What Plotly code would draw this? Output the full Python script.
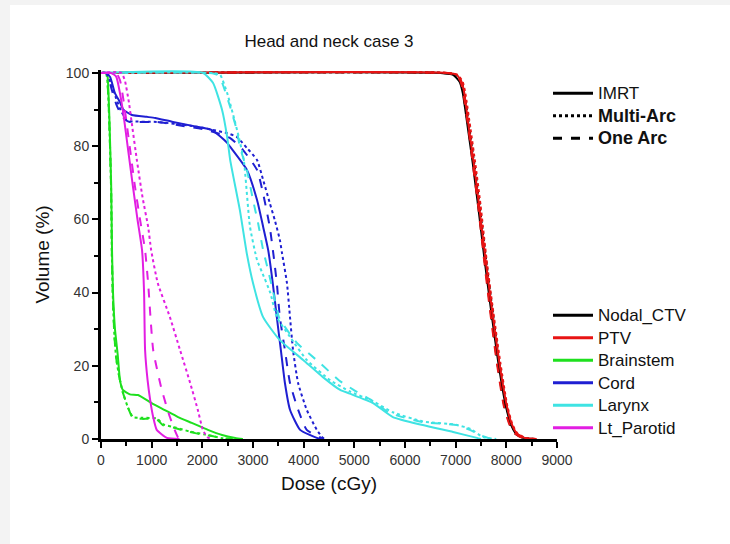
import plotly.graph_objects as go

# ---------------- data (dose in cGy, volume in %) ----------------
# Nodal_CTV
ctv_imrt_dose  = [0, 6700, 6950, 7080, 7140, 7240, 7340, 7440, 7570, 7690, 7840, 7990, 8090, 8190, 8340, 8550]
ctv_imrt_vol   = [100, 100, 99.5, 97.5, 94.5, 85, 75, 64, 49, 36, 21, 9, 4, 1.5, 0.3, 0]
ctv_multi_dose = [0, 6800, 7000, 7120, 7170, 7270, 7370, 7470, 7600, 7720, 7860, 8000, 8100, 8200, 8350, 8560]
ctv_multi_vol  = [100, 100, 99.5, 97.5, 94.5, 85, 75, 64, 49, 36, 21, 9, 4, 1.5, 0.3, 0]
ctv_one_dose   = [0, 6750, 6980, 7100, 7150, 7250, 7350, 7450, 7570, 7680, 7820, 7960, 8070, 8170, 8320, 8520]
ctv_one_vol    = [100, 100, 99.5, 97.5, 94.5, 85, 75, 64, 49, 36, 21, 9, 4, 1.5, 0.3, 0]
# PTV
ptv_imrt_dose  = [0, 6850, 7020, 7120, 7170, 7260, 7360, 7460, 7590, 7710, 7860, 8010, 8110, 8210, 8360, 8600]
ptv_imrt_vol   = [100, 100, 99.5, 97.5, 94.5, 85, 75, 64, 49, 36, 21, 9, 4, 1.5, 0.3, 0]
ptv_multi_dose = [0, 6850, 7040, 7140, 7190, 7290, 7390, 7490, 7610, 7730, 7880, 8020, 8120, 8220, 8380, 8620]
ptv_multi_vol  = [100, 100, 99.5, 97.5, 94.5, 85, 75, 64, 49, 36, 21, 9, 4, 1.5, 0.3, 0]
ptv_one_dose   = [0, 6800, 7000, 7100, 7150, 7250, 7340, 7440, 7560, 7670, 7810, 7950, 8060, 8170, 8320, 8520]
ptv_one_vol    = [100, 100, 99.5, 97.5, 94.5, 85, 75, 64, 49, 36, 21, 9, 4, 1.5, 0.3, 0]
# Brainstem
bs_imrt_dose  = [0, 110, 130, 160, 200, 217, 237, 276, 330, 375, 430, 570, 730, 1000, 1260, 1520, 1790, 2110, 2390, 2650, 2800]
bs_imrt_vol   = [100, 100, 99, 90, 70, 52, 40, 30, 23, 16, 13.4, 12.2, 12, 9.8, 7.9, 6, 4.4, 2.5, 1.1, 0.3, 0]
bs_multi_dose = [0, 100, 130, 160, 200, 215, 235, 265, 300, 360, 434, 530, 630, 810, 1100, 1230, 1480, 1740, 2060, 2200, 2400, 2600]
bs_multi_vol  = [100, 100, 97, 88, 68, 50, 38, 28, 22, 17, 12.6, 8.7, 6.0, 5.8, 5.6, 4.0, 3.1, 2.1, 1.2, 0.8, 0.2, 0]
bs_one_dose   = [0, 100, 130, 160, 200, 215, 235, 265, 300, 360, 434, 530, 630, 810, 1100, 1220, 1460, 1720, 2050, 2190, 2400, 2600]
bs_one_vol    = [100, 100, 97, 88, 68, 50, 38, 28, 22, 17, 12.6, 8.7, 5.7, 5.5, 5.4, 3.8, 3.0, 2.0, 1.1, 0.8, 0.2, 0]
# Cord
cord_imrt_dose  = [0, 100, 180, 275, 375, 440, 610, 900, 1070, 1420, 1860, 2190, 2490, 2550, 2880, 3080, 3200, 3300, 3390, 3470, 3550, 3630, 3730, 3930, 4260, 4350]
cord_imrt_vol   = [100, 100, 98.9, 94.5, 92, 90, 88.5, 88, 87.7, 86.6, 85.4, 84.4, 80.9, 79.8, 73.5, 65.3, 58, 51.6, 42.6, 33.3, 24.3, 15.3, 8, 2.5, 0.3, 0]
cord_multi_dose = [0, 100, 200, 300, 400, 500, 570, 1100, 1760, 2090, 2500, 2680, 2880, 3080, 3200, 3330, 3430, 3530, 3570, 3670, 3730, 3790, 3890, 4060, 4260, 4380, 4450]
cord_multi_vol  = [100, 100, 97, 93, 89.5, 87.2, 86.8, 86.6, 85.6, 84.8, 83.5, 82.5, 79.5, 76.2, 70.8, 64.5, 59.8, 54.4, 51, 42.6, 33.3, 24.3, 15.3, 8, 2.5, 0.3, 0]
cord_one_dose   = [0, 120, 200, 300, 400, 500, 570, 1100, 1760, 2090, 2550, 2800, 3080, 3200, 3330, 3400, 3470, 3530, 3630, 3730, 3890, 4060, 4320, 4400]
cord_one_vol    = [100, 100, 96, 91.5, 88.5, 87, 86.6, 86.6, 85.2, 84.4, 82.2, 79, 73.5, 67, 58, 50.8, 42.6, 33.3, 24.3, 15.3, 8, 2.5, 0.5, 0]
# Larynx
lar_imrt_dose  = [0, 2010, 2210, 2390, 2490, 2550, 2740, 2880, 3000, 3200, 3530, 3990, 4380, 4720, 4910, 5370, 5760, 6350, 6950, 7420, 7500]
lar_imrt_vol   = [100, 100, 97.3, 89.9, 82.5, 76.2, 62.6, 50.5, 42.6, 33.3, 27, 21.6, 16.9, 13.4, 12.4, 9.8, 6, 3.8, 1.9, 0.3, 0]
lar_multi_dose = [0, 2200, 2350, 2490, 2600, 2720, 2820, 2940, 3080, 3180, 3340, 3470, 3730, 4060, 4520, 4910, 5370, 5760, 6350, 7000, 7300, 7540, 7800]
lar_multi_vol  = [100, 100, 99.5, 94.5, 89, 82.5, 76, 58, 48.9, 45.5, 40, 33.3, 27.9, 21.6, 16.1, 13, 10.3, 7.3, 4.8, 3.9, 2.7, 0.5, 0]
lar_one_dose   = [0, 2150, 2290, 2390, 2550, 2680, 2740, 2880, 3000, 3100, 3200, 3300, 3400, 3520, 3870, 4320, 4700, 5000, 5350, 5700, 6350, 7020, 7280, 7480, 7700]
lar_one_vol    = [100, 100, 99.5, 97.3, 90.7, 84.4, 79.8, 73.5, 65.3, 59, 51.6, 46, 40, 33, 26.2, 20.8, 16, 13.3, 10.5, 7.1, 4.6, 3.8, 2.5, 1.1, 0]
# Lt_Parotid
par_imrt_dose  = [0, 200, 300, 380, 450, 530, 630, 720, 810, 850, 870, 920, 970, 1030, 1100, 1300, 1550]
par_imrt_vol   = [100, 100, 99, 94, 88, 79.5, 69, 60, 51.6, 40, 24.3, 16, 10.7, 6, 2.5, 0.3, 0]
par_multi_dose = [0, 400, 470, 550, 620, 710, 820, 930, 990, 1120, 1360, 1560, 1760, 1910, 2010, 2100, 2200]
par_multi_vol  = [100, 100, 98, 92, 85, 76, 66, 58, 51.6, 42.6, 33.3, 24.3, 15.3, 8, 2.5, 0.5, 0]
par_one_dose   = [0, 300, 375, 450, 570, 670, 770, 870, 930, 1030, 1200, 1360, 1520, 1600]
par_one_vol    = [100, 100, 98, 92, 79.5, 69, 60, 51.6, 42.6, 24.3, 13.4, 6, 0.5, 0]

structures = ["Nodal_CTV", "PTV", "Brainstem", "Cord", "Larynx", "Lt_Parotid"]
plans = ["IMRT", "Multi-Arc", "One Arc"]
x_ticks = [0, 1000, 2000, 3000, 4000, 5000, 6000, 7000, 8000, 9000]
y_ticks = [0, 20, 40, 60, 80, 100]

colors = {
    "Nodal_CTV": "#000000",
    "PTV": "#e81414",
    "Brainstem": "#1ee01e",
    "Cord": "#1f1fd2",
    "Larynx": "#3fe3e3",
    "Lt_Parotid": "#e21ee2",
}
dashes = {"IMRT": "solid", "Multi-Arc": "dot", "One Arc": "dash"}

series = {
    "Nodal_CTV": [(ctv_imrt_dose, ctv_imrt_vol), (ctv_multi_dose, ctv_multi_vol), (ctv_one_dose, ctv_one_vol)],
    "PTV": [(ptv_imrt_dose, ptv_imrt_vol), (ptv_multi_dose, ptv_multi_vol), (ptv_one_dose, ptv_one_vol)],
    "Brainstem": [(bs_imrt_dose, bs_imrt_vol), (bs_multi_dose, bs_multi_vol), (bs_one_dose, bs_one_vol)],
    "Cord": [(cord_imrt_dose, cord_imrt_vol), (cord_multi_dose, cord_multi_vol), (cord_one_dose, cord_one_vol)],
    "Larynx": [(lar_imrt_dose, lar_imrt_vol), (lar_multi_dose, lar_multi_vol), (lar_one_dose, lar_one_vol)],
    "Lt_Parotid": [(par_imrt_dose, par_imrt_vol), (par_multi_dose, par_multi_vol), (par_one_dose, par_one_vol)],
}

W, H = 730, 544
L, R, T, B = 101, 173, 70, 105
pw, ph = W - L - R, H - T - B

def px(xp):
    return (xp - L) / pw

def py(yp):
    return (H - B - yp) / ph

fig = go.Figure()

draw_order = ["Nodal_CTV", "PTV", "Brainstem", "Cord", "Larynx", "Lt_Parotid"]
for s in draw_order:
    for p, (d, v) in zip(plans, series[s]):
        fig.add_trace(go.Scatter(
            x=d, y=v, mode="lines", showlegend=False, hoverinfo="skip",
            line=dict(color=colors[s], width=2, dash=dashes[p], shape="spline", smoothing=0.5),
        ))

# legend 1: plan line styles
plan_labels = {
    "IMRT": '<span style="font-size:17px">IMRT</span>',
    "Multi-Arc": '<span style="font-size:18px"><b>Multi-Arc</b></span>',
    "One Arc": '<span style="font-size:18px"><b>One Arc</b></span>',
}
for p in plans:
    fig.add_trace(go.Scatter(
        x=[None], y=[None], mode="lines", name=plan_labels[p], legend="legend",
        line=dict(color="black", width=3, dash=dashes[p]),
    ))
# legend 2: structures
for s in structures:
    fig.add_trace(go.Scatter(
        x=[None], y=[None], mode="lines", name=f'<span style="font-size:17px">{s}</span>',
        legend="legend2", line=dict(color=colors[s], width=3),
    ))

font_family = "Liberation Sans, Arial, sans-serif"

fig.update_layout(
    width=W, height=H,
    margin=dict(l=L, r=R, t=T, b=B, autoexpand=False),
    paper_bgcolor="#f3f3f3",
    plot_bgcolor="white",
    font=dict(family=font_family, color="#222222"),
    title=dict(text="Head and neck case 3", x=0.5, xref="paper", y=1 - 41 / H, yanchor="middle",
               font=dict(size=17, color="#111111")),
    shapes=[dict(type="rect", xref="paper", yref="paper", layer="below",
                 x0=px(10), x1=px(W + 5), y0=py(H + 5), y1=py(5),
                 fillcolor="white", line=dict(width=0))],
    legend=dict(x=px(548), y=py(77), xanchor="left", yanchor="top", bgcolor="rgba(0,0,0,0)",
                font=dict(size=15, color="#111111"), tracegroupgap=0, itemwidth=40),
    legend2=dict(x=px(548), y=py(299), xanchor="left", yanchor="top", bgcolor="rgba(0,0,0,0)",
                 font=dict(size=15, color="#111111"), tracegroupgap=0, itemwidth=40),
    xaxis=dict(range=[0, 9000], tickvals=x_ticks, ticktext=[str(t) for t in x_ticks],
               showgrid=False, zeroline=False, showline=True, linecolor="black", linewidth=3,
               ticks="outside", ticklen=6, tickwidth=2, tickcolor="black",
               minor=dict(tickvals=[500 + 1000 * i for i in range(9)], ticks="outside", ticklen=4,
                          tickwidth=2, tickcolor="black"),
               tickfont=dict(size=14, color="#333333"),
               title=dict(text="Dose (cGy)", font=dict(size=19, color="#111111"), standoff=10)),
    yaxis=dict(range=[0, 100.8], tickvals=y_ticks, ticktext=[str(t) for t in y_ticks],
               showgrid=False, zeroline=False, showline=True, linecolor="black", linewidth=3,
               ticks="outside", ticklen=6, tickwidth=2, tickcolor="black",
               minor=dict(tickvals=[10, 30, 50, 70, 90], ticks="outside", ticklen=4,
                          tickwidth=2, tickcolor="black"),
               tickfont=dict(size=14, color="#333333"),
               title=dict(text="Volume (%)", font=dict(size=19, color="#111111"), standoff=12)),
)

fig.write_html(
    "out.html",
    config={"displayModeBar": False},
    post_script="document.body.style.margin='0px';document.body.style.background='#f3f3f3';",
)
